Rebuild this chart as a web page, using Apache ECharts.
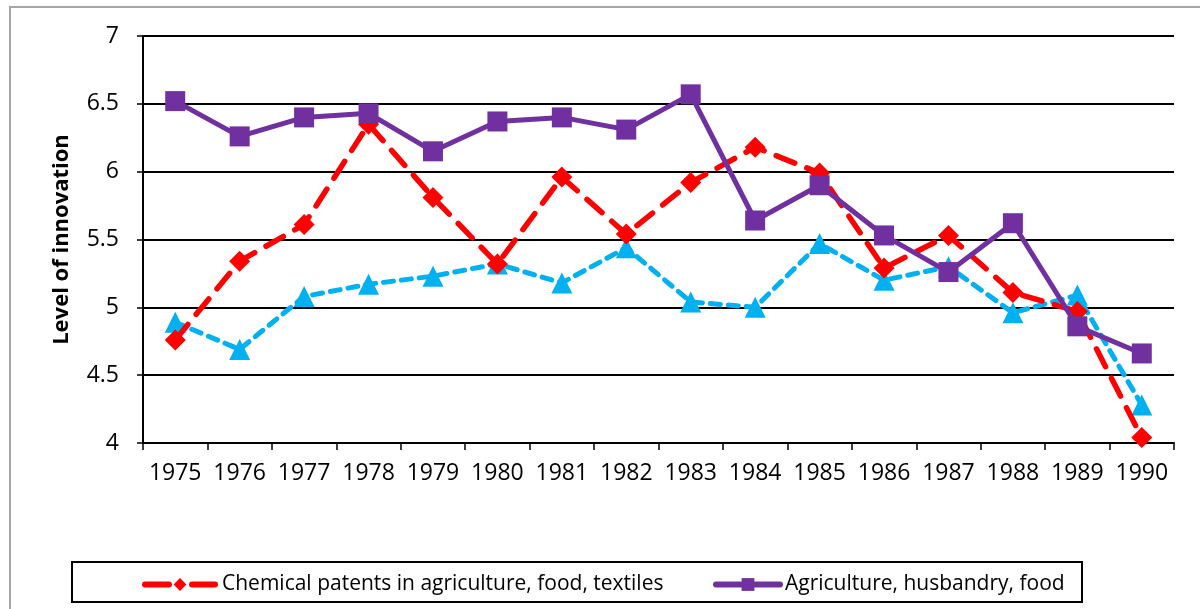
<!DOCTYPE html>
<html><head><meta charset="utf-8">
<script src="https://cdn.jsdelivr.net/npm/echarts@6/dist/echarts.min.js"></script>
<style>html,body{margin:0;padding:0;background:#fff}#c{width:1200px;height:609px}</style>
</head><body><div id="c"></div>
<script>
const years = ['1975','1976','1977','1978','1979','1980','1981','1982','1983','1984','1985','1986','1987','1988','1989','1990'];
const chemical = [4.76,5.34,5.61,6.35,5.81,5.32,5.96,5.54,5.92,6.18,5.99,5.29,5.53,5.11,4.97,4.04];
const agriculture = [6.52,6.26,6.40,6.43,6.15,6.37,6.40,6.31,6.57,5.64,5.90,5.53,5.26,5.62,4.86,4.66];
const third = [4.89,4.69,5.08,5.17,5.23,5.32,5.18,5.44,5.04,5.00,5.47,5.20,5.30,4.96,5.09,4.28];
const names = ['Chemical patents in agriculture, food, textiles','Agriculture, husbandry, food','Other'];
const yTicks = [4,4.5,5,5.5,6,6.5,7];

const font = '"Open Sans", "Noto Sans", sans-serif';
const chart = echarts.init(document.getElementById('c'), null, {renderer:'canvas'});
chart.setOption({
  animation:false,
  backgroundColor:'#fff',
  textStyle:{fontFamily:font},
  grid:{left:143,right:26,top:36,bottom:166},
  graphic:[
    {type:'rect',shape:{x:10,y:7,width:1200,height:700},style:{fill:'none',stroke:'#a6a6a6',lineWidth:2},z:-10},
    {type:'rect',shape:{x:72,y:562,width:1010,height:40},style:{fill:'#fff',stroke:'#000',lineWidth:2},z:-5}
  ],
  legend:[
    {data:[names[0]],left:142,top:574,padding:0,itemWidth:70,itemHeight:16,itemGap:0,
     lineStyle:{width:6,type:[24,23],cap:'round'},
     textStyle:{fontSize:21,color:'#000',fontFamily:font,padding:[0,0,0,2]}},
    {data:[names[1]],left:713,top:574,padding:0,itemWidth:64,itemHeight:16,itemGap:0,
     lineStyle:{width:6,cap:'round'},
     textStyle:{fontSize:21,color:'#000',fontFamily:font}}
  ],
  xAxis:{type:'category',data:years,boundaryGap:true,
    axisLine:{lineStyle:{color:'#000',width:2}},
    axisTick:{show:true,length:7,lineStyle:{color:'#000',width:1.5}},
    axisLabel:{color:'#000',fontSize:23,margin:19,fontFamily:font,interval:0,hideOverlap:false},
    splitLine:{show:false}},
  yAxis:{type:'value',min:4,max:7,interval:0.5,
    name:'Level of innovation',nameLocation:'middle',nameGap:70,nameRotate:90,
    nameTextStyle:{fontSize:22,fontWeight:'bold',color:'#000',fontFamily:font},
    axisLine:{show:true,lineStyle:{color:'#000',width:2}},
    axisTick:{show:true,length:6,lineStyle:{color:'#000',width:1.5}},
    axisLabel:{color:'#000',fontSize:23,margin:24,fontFamily:font,
      formatter:v=>yTicks.includes(v)?String(v):''},
    splitLine:{show:true,lineStyle:{color:'#000',width:2}}},
  series:[
    {name:names[2],type:'line',data:third,symbol:'triangle',symbolSize:21,
     itemStyle:{color:'#00B0F0'},lineStyle:{color:'#00B0F0',width:5,type:[10,8],cap:'round'},z:3},
    {name:names[0],type:'line',data:chemical,symbol:'diamond',symbolSize:21,
     itemStyle:{color:'#FF0000'},lineStyle:{color:'#FF0000',width:5.5,type:[20,13],cap:'round'},z:4},
    {name:names[1],type:'line',data:agriculture,symbol:'rect',symbolSize:20,
     itemStyle:{color:'#7030A0'},lineStyle:{color:'#7030A0',width:5},z:5}
  ]
});
</script></body></html>
